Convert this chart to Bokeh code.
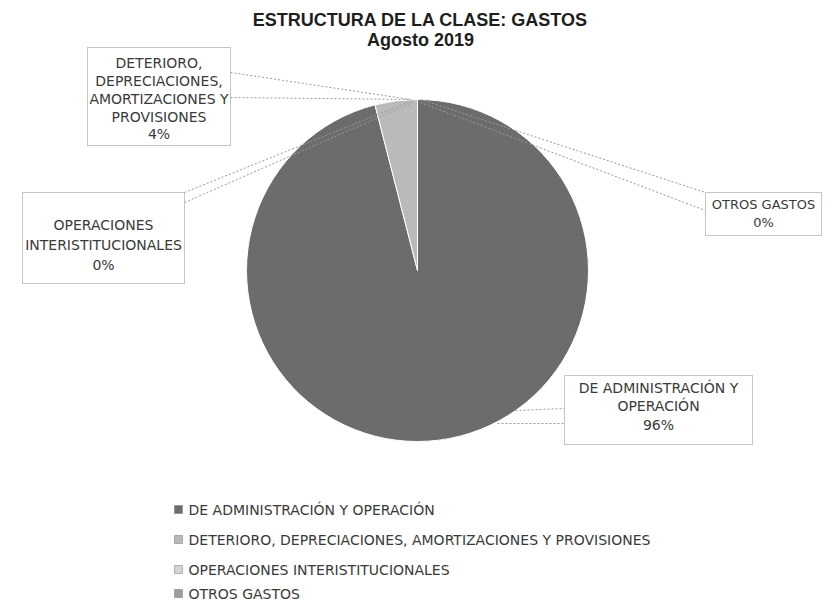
import numpy as np
from bokeh.plotting import figure
from bokeh.models import Range1d
from bokeh.core.properties import value
from bokeh.embed import file_html
from bokeh.resources import INLINE

# ---- data ----
categories = [
    "DE ADMINISTRACIÓN Y OPERACIÓN",
    "DETERIORO, DEPRECIACIONES, AMORTIZACIONES Y PROVISIONES",
    "OPERACIONES INTERISTITUCIONALES",
    "OTROS GASTOS",
]
values = [96.0, 4.0, 0.0, 0.0]
label_lines = [
    ["DE ADMINISTRACIÓN Y", "OPERACIÓN"],
    ["DETERIORO,", "DEPRECIACIONES,", "AMORTIZACIONES Y", "PROVISIONES"],
    ["OPERACIONES", "INTERISTITUCIONALES"],
    ["OTROS GASTOS"],
]
title_lines = ["ESTRUCTURA DE LA CLASE: GASTOS", "Agosto 2019"]

# ---- style / layout ----
colors = ["#6c6c6c", "#bababa", "#d4d4d4", "#9c9c9c"]
W, H = 822, 600


def X(px):
    return px - 8


def Y(py):
    return 608 - py


p = figure(width=W, height=H, x_range=Range1d(0, W), y_range=Range1d(0, H),
           output_backend="svg", toolbar_location=None, min_border=0,
           x_axis_type=None, y_axis_type=None)
p.grid.visible = False
p.outline_line_color = None
p.background_fill_color = "white"
p.border_fill_color = "white"

FONT = value("DejaVu Sans")
TXT = "#3a3a3a"

# ---- pie ----
cx, cy, R = X(425), Y(278), 171
total = float(sum(values))
fr = np.array(values) / total
cum = np.concatenate([[0.0], np.cumsum(fr)])
start = np.pi / 2 - 2 * np.pi * cum[:-1]
end = np.pi / 2 - 2 * np.pi * cum[1:]
keep = fr > 0
p.wedge(x=cx, y=cy, radius=R, radius_units="screen",
        start_angle=list(start[keep]), end_angle=list(end[keep]), direction="clock",
        fill_color=[c for c, k in zip(colors, keep) if k],
        line_color="white", line_width=1)

# ---- leader lines ----
leaders = [
    # (x0, y0, x1, y1) in page px
    (238, 80, 418, 107), (238, 105, 418, 107),           # deterioro
    (192, 200, 420, 108), (192, 210, 420, 110),          # operaciones
    (428, 107, 713, 200), (428, 110, 713, 218),          # otros
    (523, 418, 572, 416), (505, 431, 572, 431),          # administracion
]
p.segment(x0=[X(a[0]) for a in leaders], y0=[Y(a[1]) for a in leaders],
          x1=[X(a[2]) for a in leaders], y1=[Y(a[3]) for a in leaders],
          line_color="#9a9a9a", line_width=1, line_dash="2 2")

# ---- data label boxes ----
boxes = [
    (572, 383, 760, 452),   # admin
    (95, 55, 238, 153),     # deterioro
    (30, 200, 192, 291),    # operaciones
    (713, 200, 829, 243),   # otros
]
line_y = [
    [395, 413, 432],
    [70, 88, 106, 124, 141],
    [232, 252, 272],
    [212, 230],
]
box_font = ["14px", "14px", "14px", "13px"]
p.quad(left=[X(b[0]) for b in boxes], right=[X(b[2]) for b in boxes],
       top=[Y(b[1]) for b in boxes], bottom=[Y(b[3]) for b in boxes],
       fill_color="white", line_color="#8a8a8a", line_dash="1 1", line_width=1)

for i, b in enumerate(boxes):
    pct = f"{round(values[i] / total * 100):.0f}%"
    lines = label_lines[i] + [pct]
    p.text(x=[X((b[0] + b[2]) / 2)] * len(lines), y=[Y(v) for v in line_y[i]],
           text=lines, text_align="center", text_baseline="middle",
           text_font=FONT, text_font_size=box_font[i], text_color=TXT)

# ---- title ----
p.text(x=[X(428), X(428)], y=[Y(27), Y(47)], text=title_lines,
       text_align="center", text_baseline="alphabetic",
       text_font=value("Liberation Sans"), text_font_style="bold",
       text_font_size="18px", text_color="#1e1e1e")

# ---- legend ----
leg_y = [517, 547, 577, 601]
p.rect(x=[X(186)] * 4, y=[Y(v) for v in leg_y], width=8, height=8,
       width_units="screen", height_units="screen",
       fill_color=colors, line_color="#777777", line_width=0.5)
p.text(x=[X(196)] * 4, y=[Y(v) for v in leg_y], text=categories,
       text_align="left", text_baseline="middle",
       text_font=FONT, text_font_size="14px", text_color=TXT)

open("out.html", "w").write(file_html(p, INLINE))
